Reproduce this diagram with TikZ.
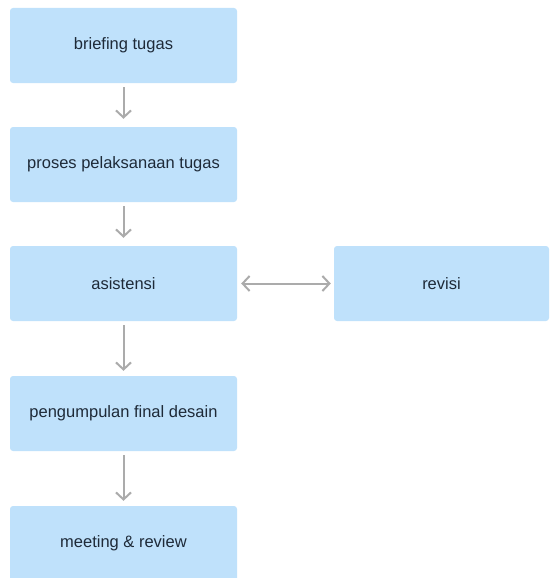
\documentclass[tikz,border=0pt]{standalone}
\usepackage{fontspec}
\setmainfont{Liberation Sans}
\usetikzlibrary{arrows.meta}
\definecolor{boxfill}{HTML}{BFE1FB}
\definecolor{txt}{HTML}{1E2A38}
\definecolor{arr}{HTML}{ABABAB}
\tikzset{
  stepbox/.style={fill=boxfill, draw=none, rounded corners=3pt, minimum height=75pt,
    text=txt, font=\fontsize{16.5pt}{19pt}\selectfont, inner sep=0pt},
  mainbox/.style={stepbox, minimum width=227pt},
  conn/.style={draw=arr, line width=2pt, -{Straight Barb[length=7pt,width=15pt,line width=2pt]}},
  dconn/.style={draw=arr, line width=2pt, {Straight Barb[length=7pt,width=15pt,line width=2pt]}-{Straight Barb[length=7pt,width=15pt,line width=2pt]}}
}
\begin{document}
\begin{tikzpicture}[x=1pt,y=1pt]
\useasboundingbox (0,0) rectangle (550,-578);
\clip (0,0) rectangle (550,-578);
\node[mainbox] (b1) at (123.5,-45.5) {briefing tugas};
\node[mainbox] (b2) at (123.5,-164.5) {proses pelaksanaan tugas};
\node[mainbox] (b3) at (123.5,-283.5) {asistensi};
\node[stepbox, minimum width=215pt] (rv) at (441.5,-283.5) {revisi};
\node[mainbox] (b4) at (123.5,-413.5) {pengumpulan final desain};
\node[mainbox] (b5) at (123.5,-543.5) {meeting \& review};
\draw[conn] ([yshift=-4pt]b1.south) -- ([yshift=8pt]b2.north);
\draw[conn] ([yshift=-4pt]b2.south) -- ([yshift=8pt]b3.north);
\draw[conn] ([yshift=-4pt]b3.south) -- ([yshift=5pt]b4.north);
\draw[conn] ([yshift=-4pt]b4.south) -- ([yshift=5pt]b5.north);
\draw[dconn] ([xshift=4pt]b3.east) -- ([xshift=-3pt]rv.west);
\end{tikzpicture}
\end{document}
